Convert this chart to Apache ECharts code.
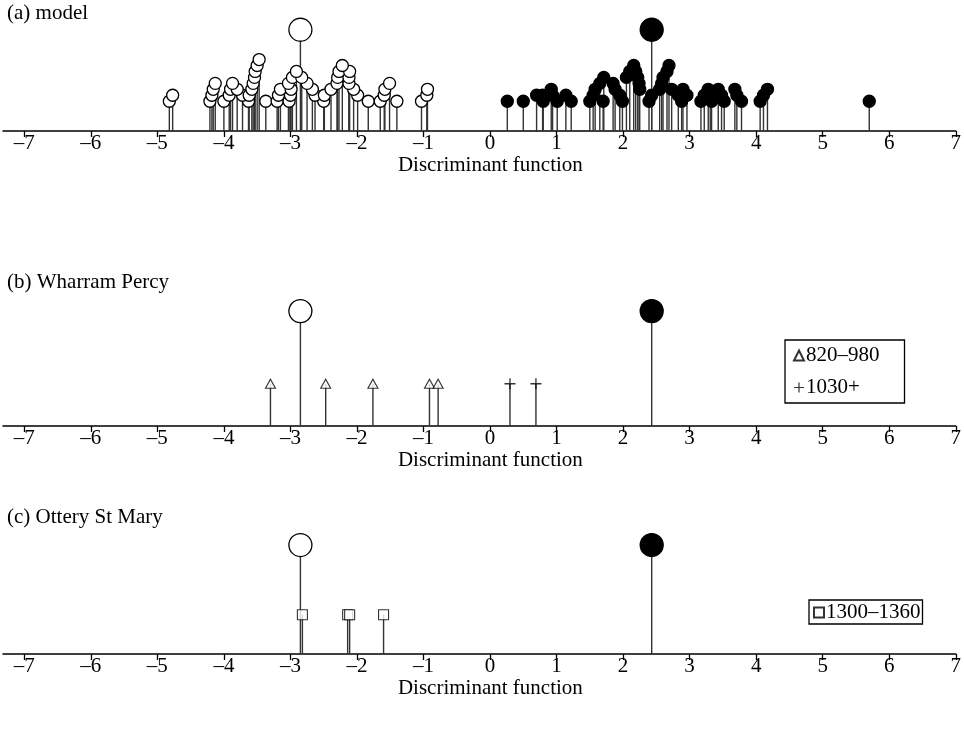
<!DOCTYPE html>
<html>
<head>
<meta charset="utf-8">
<script src="https://cdn.jsdelivr.net/npm/echarts@6/dist/echarts.min.js"></script>
<style>
html, body { margin: 0; padding: 0; background: #fff; }
#chart { width: 964px; height: 740px; }
</style>
</head>
<body>
<div id="chart"></div>
<script>
// ---- data -------------------------------------------------------------
// Axis ticks
const tickValues = [-7, -6, -5, -4, -3, -2, -1, 0, 1, 2, 3, 4, 5, 6, 7];
const tickLabels = ['–7', '–6', '–5', '–4', '–3', '–2', '–1', '0', '1', '2', '3', '4', '5', '6', '7'];

// Group centroids on the discriminant function (open group, filled group)
const centroidX = [-2.85, 2.43];

// (a) model: discriminant scores and the row each marker is stacked into
const openX = [-4.82, -4.77, -4.21, -4.18, -4.16, -4.13, -4.00, -3.92, -3.90, -3.87,
  -3.80, -3.72, -3.63, -3.62, -3.58, -3.56, -3.54, -3.53, -3.50, -3.47,
  -3.37, -3.20, -3.18, -3.15, -3.02, -3.00, -2.99, -3.03, -2.97, -2.91,
  -2.83, -2.75, -2.67, -2.63, -2.50, -2.49, -2.39, -2.30, -2.29, -2.27,
  -2.22, -2.11, -2.12, -2.12, -2.05, -1.99, -1.83, -1.65, -1.59, -1.58,
  -1.51, -1.40, -1.03, -0.95, -0.94];
const openRow = [0, 1, 0, 1, 2, 3, 0, 1, 2, 3,
  2, 1, 0, 1, 2, 3, 4, 5, 6, 7,
  0, 0, 1, 2, 0, 1, 2, 3, 4, 5,
  4, 3, 2, 1, 0, 1, 2, 3, 4, 5,
  6, 5, 4, 3, 2, 1, 0, 0, 1, 2,
  3, 0, 0, 1, 2];
const filledX = [0.26, 0.50, 0.70, 0.79, 0.80, 0.92, 0.94, 1.01, 1.14, 1.22,
  1.50, 1.55, 1.58, 1.65, 1.71, 1.70, 1.85, 1.88, 1.95, 1.99,
  2.05, 2.10, 2.16, 2.19, 2.22, 2.24, 2.25, 2.39, 2.43, 2.55,
  2.58, 2.60, 2.66, 2.69, 2.73, 2.83, 2.88, 2.90, 2.96, 3.17,
  3.22, 3.28, 3.31, 3.33, 3.43, 3.48, 3.52, 3.68, 3.71, 3.78,
  4.06, 4.11, 4.17, 5.70];
const filledRow = [0, 0, 1, 1, 0, 2, 1, 0, 1, 0,
  0, 1, 2, 3, 4, 0, 3, 2, 1, 0,
  4, 5, 6, 5, 4, 3, 2, 0, 1, 2,
  3, 4, 5, 6, 2, 1, 0, 2, 1, 0,
  1, 2, 1, 0, 2, 1, 0, 2, 1, 0,
  0, 1, 2, 0];

// (b) Wharram Percy
const wharram820X = [-3.30, -2.47, -1.76, -0.91, -0.78];
const wharram1030X = [0.30, 0.69];

// (c) Ottery St Mary
const ottery1300X = [-2.82, -2.14, -2.11, -1.60];

// Marker heights above the axis, in row units
const rowBase = 5;            // height of the first stacked row
const centroidHeight = [17, 19.3, 18.3];
const sampleHeight = [7.1, 6.6];

// ---- drawing ----------------------------------------------------------
const FONT = 'Liberation Serif';
const FS = 21;
const STEM = '#333';

function stemRender(params, api) {
  const x = api.value(0);
  const base = api.coord([x, 0]);
  const top = api.coord([x, api.value(1)]);
  return {
    type: 'line',
    shape: { x1: base[0], y1: base[1], x2: top[0], y2: top[1] },
    style: { stroke: STEM, lineWidth: 1.4 }
  };
}

function stems(gridIdx, pts) {
  return {
    type: 'custom', xAxisIndex: gridIdx, yAxisIndex: gridIdx, z: 1,
    renderItem: stemRender, encode: { x: 0, y: 1 }, data: pts, silent: true
  };
}

function markers(gridIdx, name, pts, symbol, size, fill) {
  return {
    type: 'scatter', name: name, xAxisIndex: gridIdx, yAxisIndex: gridIdx, z: 3,
    symbol: symbol, symbolSize: size, data: pts, silent: true,
    itemStyle: { color: fill, borderColor: '#000', borderWidth: 1.3, opacity: 1 }
  };
}

function stacked(xs, rows) {
  return xs.map((x, i) => [x, rowBase + rows[i], rows[i]])
           .sort((a, b) => a[2] - b[2])
           .map(p => [p[0], p[1]]);
}

const openPts = stacked(openX, openRow);
const filledPts = stacked(filledX, filledRow);
const cA = centroidX.map(x => [x, centroidHeight[0]]);
const cB = centroidX.map(x => [x, centroidHeight[1]]);
const cC = centroidX.map(x => [x, centroidHeight[2]]);
const w820 = wharram820X.map(x => [x, sampleHeight[0]]);
const w1030 = wharram1030X.map(x => [x, sampleHeight[0]]);
const o1300 = ottery1300X.map(x => [x, sampleHeight[1]]);

const axisBottoms = [131, 426, 654];
const gridH = 131;

const grids = axisBottoms.map(b => ({ left: 3, width: 953, top: b - gridH, height: gridH }));

const xAxes = axisBottoms.map((b, i) => ({
  gridIndex: i, type: 'value', min: -7.32, max: 7,
  axisLine: { show: true, onZero: false, lineStyle: { color: '#000', width: 1.5 } },
  axisTick: { show: true, customValues: tickValues, length: 6, lineStyle: { color: '#000', width: 1.3 } },
  axisLabel: {
    customValues: tickValues, margin: 2, color: '#000', fontFamily: FONT, fontSize: FS,
    formatter: v => tickLabels[tickValues.indexOf(Math.round(v))]
  },
  splitLine: { show: false },
  name: 'Discriminant function', nameLocation: 'middle', nameGap: 20,
  nameTextStyle: { color: '#000', fontFamily: FONT, fontSize: FS, padding: [0, 0, 0, 22] }
}));

const yAxes = axisBottoms.map((b, i) => ({
  gridIndex: i, type: 'value', min: 0, max: 22, show: false
}));

const titleStyle = { color: '#000', fontFamily: FONT, fontSize: FS, fontWeight: 'normal' };

const plus = 'path://M4.4,0h1.2v4.4h4.4v1.2h-4.4v4.4h-1.2v-4.4h-4.4v-1.2h4.4z';

const option = {
  animation: false,
  backgroundColor: '#fff',
  title: [
    { text: '(a) model', left: 7, top: 3, textStyle: titleStyle, padding: 0 },
    { text: '(b) Wharram Percy', left: 7, top: 272, textStyle: titleStyle, padding: 0 },
    { text: '(c) Ottery St Mary', left: 7, top: 507, textStyle: titleStyle, padding: 0 }
  ],
  grid: grids,
  xAxis: xAxes,
  yAxis: yAxes,
  legend: [
    {
      data: ['820–980', '1030+'], orient: 'vertical', left: 785, top: 340,
      borderColor: '#000', borderWidth: 1.3, padding: [5, 25, 5, 8], itemGap: 11,
      itemWidth: 10, itemHeight: 10, selectedMode: false,
      textStyle: { color: '#000', fontFamily: FONT, fontSize: FS, padding: [0, 0, 0, -3] }
    },
    {
      data: ['1300–1360'], orient: 'vertical', left: 809, top: 600,
      borderColor: '#000', borderWidth: 1.3, padding: [2, 2, 1, 4],
      itemWidth: 10, itemHeight: 10, selectedMode: false,
      textStyle: { color: '#000', fontFamily: FONT, fontSize: FS, padding: [0, 0, 0, -3] }
    }
  ],
  series: [
    // (a)
    stems(0, openPts), stems(0, filledPts), stems(0, cA),
    markers(0, 'open', openPts, 'circle', 12, '#fff'),
    markers(0, 'filled', filledPts, 'circle', 12, '#000'),
    markers(0, 'centroidOpenA', [cA[0]], 'circle', 23, '#fff'),
    markers(0, 'centroidFilledA', [cA[1]], 'circle', 23, '#000'),
    // (b)
    stems(1, cB), stems(1, w820), stems(1, w1030),
    markers(1, 'centroidOpenB', [cB[0]], 'circle', 23, '#fff'),
    markers(1, 'centroidFilledB', [cB[1]], 'circle', 23, '#000'),
    Object.assign(markers(1, '820–980', w820, 'triangle', [10, 9], '#fff'),
      { itemStyle: { color: '#fff', borderColor: '#000', borderWidth: 1.1 } }),
    Object.assign(markers(1, '1030+', w1030, plus, 11, '#000'),
      { itemStyle: { color: '#000', borderWidth: 0 } }),
    // (c)
    stems(2, cC), stems(2, o1300),
    markers(2, 'centroidOpenC', [cC[0]], 'circle', 23, '#fff'),
    markers(2, 'centroidFilledC', [cC[1]], 'circle', 23, '#000'),
    Object.assign(markers(2, '1300–1360', o1300, 'rect', 10, '#fff'),
      { itemStyle: { color: '#fff', borderColor: '#000', borderWidth: 1.1 } })
  ]
};

const chart = echarts.init(document.getElementById('chart'), null, { renderer: 'canvas' });
chart.setOption(option);
</script>
</body>
</html>
